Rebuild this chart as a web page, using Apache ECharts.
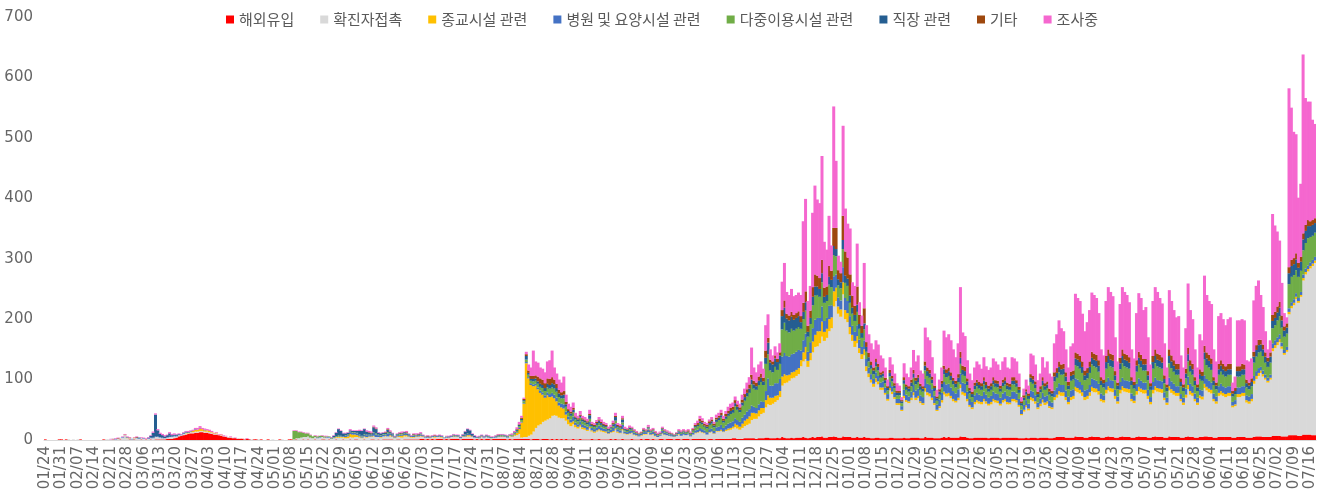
<!DOCTYPE html>
<html><head><meta charset="utf-8">
<script src="https://cdn.jsdelivr.net/npm/echarts/dist/echarts.min.js"></script>
<style>html,body{margin:0;padding:0;background:#fff}#c{width:1324px;height:497px}</style>
</head><body><div id="c"></div>
<script>
const seriesNames = ['해외유입','확진자접촉','종교시설 관련','병원 및 요양시설 관련','다중이용시설 관련','직장 관련','기타','조사중'];
const seriesColors = ['#FF0000','#D9D9D9','#FFC000','#4472C4','#70AD47','#255E91','#9E480E','#F567CF'];
const firstDate = '2020-01-24';
const dayCount = 542;
const yTicks = [0,100,200,300,400,500,600,700];

// one row per week, starting on Friday 01/24/2020
const imported = [
1,0,0,0,0,0,1, 1,0,1,0,0,0,0, 0,1,0,0,0,0,0, 0,0,0,0,1,0,0, 0,1,0,0,1,0,0,
0,1,0,1,0,0,1, 0,1,0,1,0,1,1, 1,1,1,2,2,2,3, 4,6,7,8,9,10,11, 11,12,12,13,13,12,12,
11,10,9,9,8,7,6, 5,4,4,3,3,2,2, 2,1,2,1,0,1,1, 0,1,0,0,1,0,0, 0,0,1,0,0,0,1,
1,0,1,0,0,1,0, 1,0,0,1,0,0,1, 1,0,1,0,0,1,0, 0,1,0,0,1,0,1, 1,0,0,1,0,0,1,
1,0,1,0,1,1,1, 1,1,0,1,1,0,1, 1,1,1,1,1,1,2, 2,1,2,1,2,1,2, 2,2,1,2,1,2,2,
2,2,1,2,2,2,2, 2,1,2,1,2,1,2, 2,1,2,2,2,2,2, 2,1,2,1,2,2,2, 2,2,2,2,1,2,2,
2,1,2,2,2,1,2, 1,2,1,2,1,2,1, 1,2,1,1,2,1,1, 1,1,2,1,1,2,1, 1,1,1,2,1,2,1,
1,2,1,1,1,2,1, 1,1,2,1,2,2,1, 2,1,1,2,2,1,2, 2,2,1,2,2,1,2, 2,2,1,2,2,2,2,
2,2,1,2,2,1,2, 2,2,2,2,2,2,3, 3,2,2,2,3,3,3, 3,3,2,3,3,3,4, 4,3,3,3,4,3,5,
4,3,3,4,3,4,4, 4,5,4,3,4,5,4, 5,5,6,4,4,5,5, 6,5,4,4,6,5,5, 5,4,4,5,4,4,5,
4,4,3,3,4,4,3, 3,3,3,4,4,3,3, 3,3,4,3,3,4,4, 4,4,3,3,5,4,4, 4,3,3,3,4,5,4,
5,4,4,4,4,6,5, 5,4,3,3,4,4,4, 4,4,4,3,4,4,4, 4,3,4,4,4,4,4, 4,4,3,3,3,4,3,
4,4,4,3,4,4,4, 4,3,3,4,5,5,5, 5,4,4,4,4,6,5, 5,5,4,4,5,6,5, 5,5,4,4,5,6,5,
5,4,4,5,6,5,5, 5,4,4,5,6,5,5, 5,4,4,5,6,5,5, 5,4,4,6,5,5,5, 5,4,4,5,6,5,5,
4,4,5,5,6,6,5, 5,4,4,5,5,5,5, 5,5,4,4,5,5,5, 5,4,4,4,5,6,6, 6,5,5,5,5,7,7,
7,7,6,6,6,8,8, 8,8,7,7,9,9,9, 9,8,8
];
const contact = [
0,0,0,0,0,0,0, 0,0,0,1,0,1,0, 1,0,0,0,0,0,0, 0,0,0,0,0,1,1, 1,2,1,2,3,4,8,
3,2,1,2,3,2,3, 2,1,2,2,3,4,4, 3,2,2,2,3,3,3, 2,2,1,2,2,1,2, 2,2,2,2,2,2,2,
2,2,1,2,1,1,1, 1,1,1,1,0,1,0, 0,1,0,0,1,0,0, 1,0,0,0,0,0,1, 0,0,0,1,0,0,0,
0,1,2,3,4,4,5, 5,4,3,4,3,4,4, 3,4,3,2,3,3,4, 4,3,3,3,4,4,4, 4,4,3,4,4,5,4,
5,5,4,4,5,5,5, 5,4,3,4,4,4,5, 5,4,3,3,4,4,4, 3,3,2,2,3,3,3, 3,2,2,2,2,3,3,
3,3,2,3,3,4,4, 3,3,2,2,3,3,3, 2,2,2,2,3,3,3, 3,3,4,4,5,6,8, 2,3,3,5,8,12,18,
22,25,28,30,32,35,38, 40,38,36,34,35,30,25, 22,24,20,18,20,17,16, 14,18,12,11,13,14,13, 12,11,9,10,12,15,11,
10,14,9,8,9,9,7, 6,5,5,8,7,10,7, 7,5,4,5,8,7,6, 5,4,4,5,7,6,7, 6,7,5,7,9,10,12,
10,9,8,10,11,9,12, 12,13,11,13,14,15,16, 18,17,15,18,20,22,24, 30,32,33,36,40,42,50, 55,55,57,60,62,68,85,
90,92,95,98,100,102,105, 118,125,130,118,128,140,150, 150,155,165,160,165,175,180, 215,225,205,200,235,195,190, 170,160,150,155,140,130,135,
110,100,92,85,92,88,80, 80,72,62,78,72,65,55, 55,45,65,60,58,62,70, 62,65,58,55,75,70,68, 62,55,45,50,58,70,68,
68,65,60,58,62,80,70, 68,60,52,48,55,58,56, 55,60,56,54,55,60,58, 57,54,58,60,55,55,60, 60,58,52,38,44,50,46,
62,60,56,48,52,58,54, 56,50,48,62,65,70,68, 68,62,55,62,64,75,74, 72,68,62,64,68,75,74, 74,70,60,58,72,76,75,
74,64,56,72,76,75,74, 73,60,57,70,75,74,72, 72,64,55,72,76,75,74, 73,62,54,76,73,70,68, 68,60,54,65,78,70,68,
60,54,64,62,80,76,74, 72,60,56,68,70,68,66, 68,68,50,52,66,66,68, 68,58,56,60,88,95,100, 105,100,95,90,95,140,145,
150,155,145,135,140,200,210, 215,225,220,230,255,265,270, 275,280,285
];
const religious = [
0,0,0,0,0,0,0, 0,0,0,0,0,0,0, 0,0,0,0,0,0,0, 0,0,0,0,0,0,0, 0,0,0,0,0,0,0,
1,0,0,1,0,0,0, 0,0,0,0,0,0,0, 0,0,0,0,0,0,0, 0,0,0,0,1,1,1, 2,3,3,4,3,2,2,
2,1,1,1,0,1,0, 0,0,0,0,0,0,0, 0,0,0,0,0,0,0, 0,0,0,0,0,0,0, 0,0,0,0,0,0,0,
0,0,0,0,0,0,0, 0,0,0,0,0,0,0, 0,0,0,0,0,1,1, 1,1,2,3,5,5,4, 3,2,1,1,1,1,1,
1,0,0,1,0,1,0, 2,1,1,1,2,3,2, 2,1,1,1,1,1,1, 1,0,0,1,0,1,0, 0,1,0,0,1,0,1,
1,0,0,1,1,2,2, 1,0,0,0,1,0,0, 0,0,0,0,0,1,1, 0,0,1,1,2,4,8, 25,55,122,95,82,75,70,
60,52,45,38,40,35,32, 28,24,20,18,16,10,8, 6,5,4,3,3,3,3, 2,3,2,2,2,2,2, 2,2,1,1,2,2,2,
1,2,1,1,1,1,1, 1,0,1,1,1,1,1, 1,1,0,0,1,1,0, 0,0,0,0,1,0,0, 0,0,0,0,1,1,1,
1,1,0,1,1,1,1, 1,2,1,2,3,3,3, 6,6,5,7,9,10,12, 12,10,9,10,10,8,12, 15,12,10,10,8,10,15,
15,12,10,10,10,10,10, 10,15,20,10,12,18,20, 25,20,25,15,15,20,18, 25,22,12,12,20,15,15, 12,10,10,12,8,8,10,
8,6,5,5,6,5,4, 4,3,3,4,4,3,3, 3,2,4,3,3,4,5, 4,4,3,3,6,5,5, 4,3,2,3,4,5,5,
5,4,4,3,4,6,5, 5,4,3,3,4,4,4, 4,4,4,3,4,4,4, 4,3,4,4,4,3,4, 4,4,3,2,3,3,3,
5,5,4,3,4,5,4, 4,3,3,5,5,6,6, 6,5,4,5,5,7,7, 6,6,5,5,6,7,7, 6,6,4,4,6,7,6,
6,5,4,6,7,6,6, 6,4,4,6,7,6,6, 6,5,4,6,7,6,6, 6,4,4,7,6,6,5, 5,4,4,5,7,6,5,
4,4,5,5,7,6,6, 6,4,4,5,6,5,5, 5,5,3,3,5,5,5, 5,4,4,4,5,5,5, 4,4,3,3,3,5,5,
5,5,4,3,3,4,4, 4,4,3,3,4,4,4, 4,4,4
];
const hospital = [
0,0,0,0,0,0,0, 0,0,0,0,0,0,0, 0,0,0,0,0,0,0, 0,0,0,0,0,0,0, 0,0,1,0,0,1,0,
1,0,1,0,1,1,0, 1,0,1,1,1,1,1, 1,1,0,1,2,1,1, 1,1,0,1,1,0,1, 0,1,0,1,0,1,0,
0,0,0,0,0,0,0, 0,0,0,0,0,0,0, 0,0,0,0,0,0,0, 0,0,0,0,0,0,0, 0,0,0,0,0,0,0,
0,0,0,0,0,0,0, 0,0,0,0,1,1,0, 0,1,1,0,1,0,1, 1,1,2,2,3,3,3, 3,2,2,3,3,2,2,
5,4,3,2,3,2,5, 2,2,1,2,2,2,2, 2,2,1,2,1,2,2, 1,1,1,1,1,1,1, 1,1,0,1,1,1,1,
1,1,1,1,2,2,2, 1,1,0,1,1,1,1, 1,0,1,1,1,1,1, 1,1,0,1,1,1,2, 1,1,2,2,3,3,3,
3,4,4,4,5,5,6, 6,6,5,6,7,5,5, 5,8,4,4,6,5,4, 5,8,4,4,5,6,5, 4,4,3,4,5,8,4,
4,7,3,3,4,3,3, 2,2,2,3,3,4,3, 4,3,2,2,4,3,3, 2,2,1,2,3,3,3, 2,2,2,3,4,4,5,
5,4,4,5,5,4,6, 7,8,6,7,8,9,9, 9,8,8,10,10,12,12, 12,10,9,10,11,10,15, 28,20,20,21,20,20,33,
35,32,30,30,30,30,30, 16,20,22,15,18,22,25, 22,22,25,18,18,22,20, 25,22,15,15,25,20,20, 18,15,15,18,14,12,15,
12,10,9,8,10,9,8, 10,9,8,10,9,8,7, 7,6,10,9,8,10,12, 12,12,10,10,15,14,14, 14,12,9,11,12,16,15,
15,14,13,12,14,18,15, 15,12,10,9,11,12,11, 10,12,11,10,10,12,11, 11,10,11,12,10,10,12, 12,11,10,7,8,9,8,
11,11,10,8,9,11,10, 10,9,8,11,12,13,12, 12,11,9,11,11,14,14, 13,12,11,11,12,14,14, 13,12,9,8,13,14,13,
13,10,8,13,14,13,13, 13,9,8,12,14,13,12, 12,10,8,13,14,13,13, 13,9,8,14,13,12,11, 11,8,8,10,14,12,11,
9,8,10,10,14,13,13, 12,9,8,11,12,11,11, 11,11,6,7,11,11,11, 11,8,8,8,8,8,8, 6,6,5,5,5,8,8,
8,8,6,5,5,6,6, 6,6,5,5,6,6,6, 6,6,6
];
const facilities = [
0,0,0,0,0,0,0, 0,0,0,0,0,0,0, 0,0,0,0,0,0,0, 0,0,0,0,0,0,0, 0,0,0,0,0,0,0,
0,0,0,0,0,0,0, 0,0,0,0,0,0,0, 0,0,0,0,0,0,0, 0,0,0,0,0,0,0, 0,0,0,0,0,0,0,
0,0,0,0,0,0,0, 0,0,0,0,0,0,0, 0,0,0,0,0,0,0, 0,0,0,0,0,0,0, 0,0,0,0,0,0,0,
0,14,12,10,9,7,6, 5,4,3,2,2,2,2, 2,1,1,1,1,1,2, 1,0,1,1,1,1,1, 1,1,1,1,1,1,1,
1,2,1,1,1,1,2, 1,1,0,1,1,1,1, 1,1,0,1,1,0,1, 0,1,0,1,0,1,0, 1,0,0,1,0,0,1,
0,1,0,0,1,1,0, 0,0,0,1,0,0,1, 1,1,0,1,1,1,1, 1,1,1,1,2,2,3, 3,3,4,4,4,5,5,
6,6,7,7,8,9,9, 10,10,9,9,10,8,6, 6,7,5,5,6,5,5, 4,5,3,3,4,4,4, 3,3,2,2,3,5,3,
3,4,2,2,3,2,2, 1,1,1,2,1,2,2, 2,1,1,1,2,2,1, 1,1,1,1,1,2,2, 2,2,2,3,5,6,8,
8,6,6,7,8,6,9, 11,12,9,11,13,14,14, 20,17,16,20,23,25,27, 35,30,30,32,32,28,45, 40,25,22,27,22,25,45,
50,42,40,42,38,38,38, 36,35,38,25,30,38,40, 38,35,40,30,28,35,30, 35,30,20,20,30,25,25, 22,20,18,22,18,15,18,
12,10,9,8,10,9,8, 8,7,6,9,8,7,6, 6,5,10,8,8,9,12, 10,11,9,9,14,13,12, 10,8,6,8,9,13,12,
13,12,11,10,12,16,13, 13,11,9,8,10,11,10, 10,12,10,10,10,12,11, 11,10,12,12,11,11,12, 12,11,10,7,8,9,8,
14,13,12,9,10,13,11, 12,10,10,15,16,18,17, 18,15,12,16,16,22,22, 22,20,17,18,20,23,22, 22,20,14,13,22,24,23,
22,16,12,21,24,23,22, 21,14,12,20,23,22,20, 20,16,12,22,24,23,22, 21,15,11,24,22,20,19, 19,13,11,17,25,20,19,
14,11,17,16,26,23,22, 21,14,12,19,20,19,18, 19,19,9,10,18,18,19, 19,13,12,13,22,24,26, 25,24,20,18,20,25,25,
28,30,25,22,22,40,42, 40,38,35,35,40,42,45, 42,40,40
];
const workplace = [
0,0,0,0,0,0,0, 0,0,0,0,0,0,0, 0,0,0,0,0,0,0, 0,0,0,0,0,0,0, 0,0,0,0,0,0,0,
0,0,0,0,0,1,0, 0,0,1,3,8,36,10, 5,4,3,3,4,2,2, 2,1,1,1,1,1,0, 0,0,0,0,0,0,0,
0,0,0,0,0,0,0, 0,0,0,0,0,0,0, 0,0,0,0,0,0,0, 0,0,0,0,0,0,0, 0,0,0,0,0,0,0,
0,0,0,0,0,0,0, 0,0,0,0,0,0,0, 0,0,0,1,2,6,10, 8,5,3,3,2,2,2, 3,6,8,8,5,3,2,
8,7,3,3,2,2,4, 2,2,1,1,1,1,2, 1,1,1,1,1,1,1, 1,0,1,0,1,0,1, 1,1,1,0,1,1,1,
1,1,1,2,5,7,6, 3,2,1,1,1,1,1, 1,1,0,1,1,1,1, 1,1,1,1,1,2,2, 2,2,6,3,3,4,4,
4,5,5,5,6,6,7, 7,6,6,5,6,4,3, 4,4,3,3,3,3,3, 3,6,2,2,3,4,3, 3,2,2,2,3,6,2,
2,5,2,2,2,2,1, 1,1,1,2,1,2,1, 1,1,1,1,2,1,1, 1,1,1,1,1,1,1, 1,1,1,1,2,2,3,
3,2,3,3,4,3,4, 4,4,3,4,4,5,5, 5,5,4,5,6,6,7, 8,7,6,7,7,6,10, 19,13,13,14,13,14,22,
25,20,20,20,18,18,18, 11,12,14,8,10,14,15, 14,13,15,10,10,13,12, 15,12,10,10,15,12,12, 12,10,10,12,8,8,10,
8,7,6,6,7,6,5, 5,5,4,6,5,4,4, 4,3,6,5,5,6,7, 6,7,6,5,8,8,7, 6,5,4,5,6,8,7,
8,7,6,6,7,10,8, 8,6,5,5,6,6,6, 6,6,6,5,6,6,6, 6,5,6,6,6,5,6, 6,6,5,4,4,5,5,
7,7,6,5,5,7,6, 6,5,5,8,8,9,9, 9,8,6,8,8,11,11, 11,10,8,9,10,11,11, 11,10,7,7,11,12,11,
11,8,6,10,12,11,11, 10,7,6,10,11,11,10, 10,8,6,11,12,11,11, 10,7,6,12,11,10,9, 9,7,6,8,12,10,9,
7,6,8,8,12,11,11, 10,7,6,9,10,9,9, 9,9,5,5,9,9,9, 9,7,6,7,10,11,12, 12,11,10,9,10,12,12,
13,14,12,10,10,18,18, 18,18,15,15,18,20,20, 18,18,16
];
const other = [
0,0,0,0,0,0,0, 0,0,0,0,0,0,0, 0,0,0,0,0,0,0, 0,0,0,0,0,0,0, 0,0,0,1,0,0,1,
0,1,0,0,1,0,0, 0,0,0,0,0,0,0, 0,0,0,0,0,0,0, 0,0,0,0,0,0,0, 0,0,0,0,0,0,0,
0,0,0,0,0,0,0, 0,0,0,0,0,0,0, 0,0,0,0,0,0,0, 0,0,0,0,0,0,0, 0,0,0,0,0,0,0,
0,0,0,0,0,0,0, 0,0,0,0,0,0,0, 0,0,0,0,0,0,0, 0,0,0,0,0,0,0, 0,0,0,0,0,1,1,
1,1,0,0,0,1,1, 1,0,0,0,1,1,0, 1,0,0,1,0,1,0, 0,0,1,0,0,1,0, 0,0,0,0,0,0,0,
0,0,0,0,0,0,0, 0,0,0,0,0,0,0, 0,0,0,0,1,0,0, 0,0,0,0,0,1,1, 2,2,3,4,5,5,5,
8,9,9,8,9,10,10, 8,7,6,5,6,4,3, 3,3,2,2,2,2,2, 2,2,2,2,2,2,2, 2,2,1,1,2,2,2,
2,2,1,1,1,1,1, 1,1,1,1,1,1,1, 1,1,1,1,1,1,1, 1,1,1,1,1,1,1, 1,2,1,2,2,3,4,
3,3,3,3,3,3,3, 3,4,3,4,4,5,5, 5,4,4,5,5,6,7, 8,6,6,7,7,6,12, 8,5,5,5,5,5,10,
12,8,8,8,8,8,8, 10,15,18,10,12,16,20, 18,18,22,15,14,18,15, 30,35,15,15,40,40,35, 35,20,15,30,15,12,25,
8,7,6,5,6,5,4, 4,4,3,5,4,4,3, 3,2,5,4,4,5,6, 5,5,4,4,7,6,6, 5,4,3,4,5,6,6,
6,6,5,5,6,10,7, 7,5,4,4,5,5,5, 5,6,5,5,5,6,5, 5,5,5,6,5,5,6, 6,5,5,3,4,4,4,
6,6,5,4,5,6,5, 5,5,4,7,8,9,8, 8,7,6,7,7,10,10, 10,9,8,8,9,10,10, 10,9,6,6,10,11,10,
10,7,5,9,11,10,10, 9,6,5,9,10,10,9, 9,7,5,10,11,10,10, 9,6,5,11,10,9,9, 9,6,5,8,11,9,9,
6,5,8,7,11,10,10, 9,6,5,9,9,9,8, 9,9,4,5,8,8,9, 8,6,5,6,8,8,9, 8,8,7,6,7,10,10,
10,10,8,7,7,10,10, 10,10,8,8,10,10,10, 8,8,8
];
const investigating = [
0,0,0,0,0,0,0, 0,0,0,0,0,0,0, 0,0,0,0,0,0,0, 0,0,0,0,0,0,0, 1,0,1,1,0,1,1,
1,1,0,1,1,0,1, 1,1,1,1,2,2,2, 2,2,2,1,2,2,2, 1,1,1,1,1,2,1, 2,2,3,3,2,2,2,
2,2,1,1,1,1,1, 1,0,1,0,1,0,0, 0,0,1,0,0,0,0, 0,0,0,0,0,0,0, 0,0,0,0,0,0,0,
0,1,1,1,1,1,1, 1,1,0,1,1,0,1, 1,1,0,1,1,1,1, 1,1,1,1,2,1,1, 1,2,1,1,2,2,2,
2,2,1,1,1,1,2, 2,1,1,1,1,2,1, 2,1,1,1,2,1,2, 1,1,1,1,1,1,1, 1,1,0,1,1,1,1,
1,1,1,1,1,1,1, 1,1,1,1,1,1,1, 1,1,1,1,1,1,1, 1,1,1,2,2,3,4, 3,2,4,10,14,42,23,
23,18,18,18,28,31,44, 20,17,17,16,24,12,9, 8,9,6,4,6,4,4, 4,7,3,3,3,4,4, 3,3,3,3,4,5,3,
3,4,3,2,3,2,2, 2,1,1,2,2,3,2, 2,2,2,2,2,2,2, 2,1,1,1,2,2,2, 2,2,2,2,3,4,5,
4,3,3,3,4,3,5, 5,5,5,5,7,7,7, 6,6,6,8,9,11,12, 45,22,17,20,20,15,42, 39,17,10,15,11,15,47,
62,36,34,38,31,30,31, 35,135,153,41,41,123,147, 126,124,172,76,61,83,42, 201,111,24,19,149,71,56, 76,22,33,71,21,17,75,
28,31,30,30,30,32,28, 21,17,11,21,19,16,13, 9,5,23,18,15,20,33, 27,32,22,21,56,50,49, 32,20,11,16,22,58,53,
55,53,47,39,51,107,55, 51,30,24,19,25,30,29, 24,33,26,26,26,31,31, 27,26,30,33,25,25,33, 31,31,22,7,11,16,13,
34,34,28,19,21,33,26, 33,25,24,48,56,68,60, 54,38,24,42,45,97,92, 91,79,65,76,85,98,97, 94,78,46,40,91,103,102,
97,56,35,89,103,102,99, 91,46,39,78,97,94,81, 86,56,31,91,103,102,94, 89,53,28,98,90,83,77, 79,38,28,67,106,83,74,
46,28,58,52,116,95,89, 90,46,35,79,78,74,68, 74,77,14,19,76,76,74, 73,32,35,33,85,98,98, 74,62,35,14,20,167,143,
124,101,54,22,10,296,252, 209,197,108,121,296,210,196, 198,166,156
];

const seriesData = [imported, contact, religious, hospital, facilities, workplace, other, investigating];

// category labels (MM/DD), one per day
const categories = [];
const d0 = new Date(firstDate + 'T00:00:00Z');
for (let i = 0; i < dayCount; i++) {
  const d = new Date(d0.getTime() + i * 86400000);
  const mm = String(d.getUTCMonth() + 1).padStart(2, '0');
  const dd = String(d.getUTCDate()).padStart(2, '0');
  categories.push(mm + '/' + dd);
}

const chart = echarts.init(document.getElementById('c'), null, {renderer: 'canvas'});
chart.setOption({
  animation: false,
  backgroundColor: '#ffffff',
  textStyle: {fontFamily: '"Noto Sans CJK KR", "DejaVu Sans", sans-serif'},
  legend: {
    top: 7,
    left: 'center',
    icon: 'rect',
    itemWidth: 8,
    itemHeight: 8,
    itemGap: 26,
    textStyle: {fontSize: 15, color: '#595959', fontFamily: '"Noto Sans CJK KR", sans-serif'},
    data: seriesNames
  },
  grid: {left: 44, right: 8, top: 17, bottom: 57, containLabel: false},
  xAxis: {
    type: 'category',
    data: categories,
    axisTick: {show: false},
    axisLine: {show: true, lineStyle: {color: '#D9D9D9'}},
    axisLabel: {
      interval: 6,
      rotate: 90,
      fontSize: 15,
      color: '#666666',
      margin: 6,
      fontFamily: '"DejaVu Sans", sans-serif'
    }
  },
  yAxis: {
    type: 'value',
    min: yTicks[0],
    max: yTicks[yTicks.length - 1],
    interval: 100,
    splitLine: {show: false},
    axisLine: {show: false},
    axisTick: {show: false},
    axisLabel: {fontSize: 15, color: '#666666', margin: 11, fontFamily: '"DejaVu Sans", sans-serif'}
  },
  series: seriesNames.map((name, i) => ({
    name: name,
    type: 'bar',
    stack: 'total',
    barWidth: 3,
    itemStyle: {color: seriesColors[i]},
    emphasis: {disabled: true},
    data: seriesData[i]
  }))
});
</script>
</body></html>
